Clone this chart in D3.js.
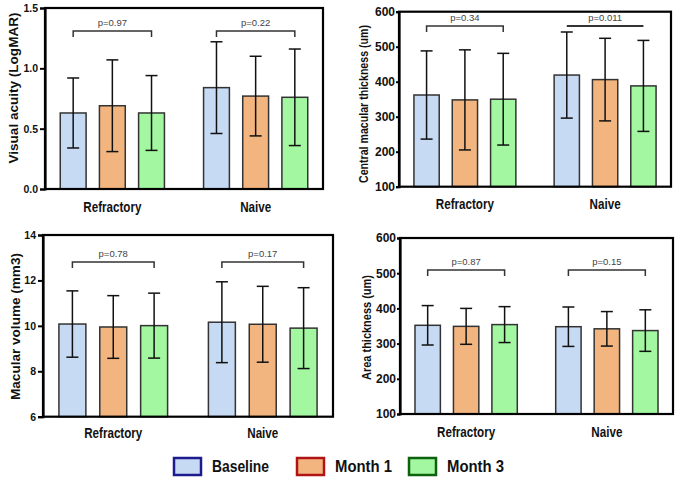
<!DOCTYPE html>
<html>
<head>
<meta charset="utf-8">
<script src="https://cdn.jsdelivr.net/npm/d3@7"></script>
<style>
  body { margin: 0; background: #fff; }
  svg { display: block; font-family: "Liberation Sans", Arial, sans-serif; }
</style>
</head>
<body>
<script>
const GROUPS = ['Refractory', 'Naive'];
const SERIES = ['Baseline', 'Month 1', 'Month 3'];

// mean and sd, [group][series]
const VA_MEAN  = [[0.63, 0.69, 0.63], [0.84, 0.77, 0.76]];
const VA_SD    = [[0.29, 0.38, 0.31], [0.38, 0.33, 0.40]];
const CMT_MEAN = [[362, 348, 350], [419, 406, 388]];
const CMT_SD   = [[126, 143, 131], [123, 118, 130]];
const MV_MEAN  = [[10.08, 9.95, 10.01], [10.16, 10.07, 9.90]];
const MV_SD    = [[1.46, 1.38, 1.43], [1.78, 1.67, 1.78]];
const AT_MEAN  = [[352, 349, 354], [348, 342, 337]];
const AT_SD    = [[56, 51, 51], [56, 49, 59]];

const P_VALUES = [['p=0.97', 'p=0.22'], ['p=0.34', 'p=0.011'],
                  ['p=0.78', 'p=0.17'], ['p=0.87', 'p=0.15']];
const TITLES = ['Visual acuity (LogMAR)', 'Central macular thickness (um)',
                'Macular volume (mm3)', 'Area thickness (um)'];
const Y_TICKS = [[0, 0.5, 1.0, 1.5], [100, 200, 300, 400, 500, 600],
                 [6, 8, 10, 12, 14], [100, 200, 300, 400, 500, 600]];

const FILLS = ['#c6daf4', '#f3b57f', '#a2f7a0'];
const EDGES = ['#1c1c8e', '#b01414', '#0e620e'];

const W = 681, H = 484;

const svg = d3.select('body').append('svg')
  .attr('width', W)
  .attr('height', H);

svg.append('rect').attr('width', W).attr('height', H).attr('fill', '#fff');

let panels = [
  {mean: VA_MEAN, sd: VA_SD, fmt: d3.format('.1f'), left: 45, right: 323, top: 8, bottom: 189,
   tx: 13.5, ty: 88, tlen: 151, tfont: 10.5, tsize: 5, bracket: 1.31, catDy: 23, side: 'l'},
  {mean: CMT_MEAN, sd: CMT_SD, fmt: d3.format('d'), left: 399, right: 671, top: 11.7, bottom: 186.7,
   tx: 364, ty: 104, tlen: 158, tfont: 12, tsize: 3, bracket: 559, catDy: 22, side: 'r', noTicks: [false, true]},
  {mean: MV_MEAN, sd: MV_SD, fmt: d3.format('d'), left: 43, right: 333, top: 235, bottom: 416.7,
   tx: 16, ty: 326.5, tlen: 147, tfont: 10.5, tsize: 5, bracket: 12.81, catDy: 21, side: 'l'},
  {mean: AT_MEAN, sd: AT_SD, fmt: d3.format('d'), left: 400, right: 673, top: 238, bottom: 414,
   tx: 367, ty: 327.5, tlen: 105, tfont: 12, tsize: 3, bracket: 509, catDy: 23, side: 'r'}
];

panels.forEach((p, i) => drawPanel(p, i));
drawLegend();

// the source image is a bit flattened, so squeeze some text sideways
function squeeze(sel, factor) {
  sel.each(function() {
    let len = this.getComputedTextLength();
    d3.select(this)
      .attr('textLength', len * factor)
      .attr('lengthAdjust', 'spacingAndGlyphs');
  });
}

function drawPanel(p, i) {
  let ticks = Y_TICKS[i];
  let y = d3.scaleLinear()
            .domain([ticks[0], ticks[ticks.length - 1]])
            .range([p.bottom, p.top]);

  let x0 = d3.scaleBand()
             .domain(GROUPS)
             .range([p.left, p.right])
             .paddingInner(0.18)
             .paddingOuter(0.06);

  let x1 = d3.scaleBand()
             .domain(SERIES)
             .range([0, x0.bandwidth()])
             .paddingInner(0.34)
             .paddingOuter(0.17);

  let g = svg.append('g');

  // bars
  GROUPS.forEach((grp, gi) => {
    SERIES.forEach((s, si) => {
      let m = p.mean[gi][si];
      let sd = p.sd[gi][si];
      let bx = x0(grp) + x1(s);
      let cx = bx + x1.bandwidth() / 2;
      g.append('rect')
       .attr('x', bx)
       .attr('y', y(m))
       .attr('width', x1.bandwidth())
       .attr('height', y(ticks[0]) - y(m))
       .attr('fill', FILLS[si])
       .attr('stroke', '#333')
       .attr('stroke-width', 1.5);
      g.append('line')
       .attr('x1', cx).attr('x2', cx)
       .attr('y1', y(m - sd)).attr('y2', y(m + sd))
       .attr('stroke', '#111').attr('stroke-width', 1.5);
      [m - sd, m + sd].forEach(v => {
        g.append('line')
         .attr('x1', cx - 6).attr('x2', cx + 6)
         .attr('y1', y(v)).attr('y2', y(v))
         .attr('stroke', '#111').attr('stroke-width', 1.5);
      });
    });

    // comparison bracket
    let xa = x0(grp) + x1(SERIES[0]) + x1.bandwidth() / 2;
    let xb = x0(grp) + x1(SERIES[2]) + x1.bandwidth() / 2;
    let by = y(p.bracket);
    let plain = p.noTicks && p.noTicks[gi];
    let path = plain ? `M${xa},${by}H${xb}` : `M${xa},${by + 6}V${by}H${xb}V${by + 6}`;
    g.append('path')
     .attr('d', path)
     .attr('fill', 'none')
     .attr('stroke', '#333')
     .attr('stroke-width', plain ? 2 : 1.5);
    g.append('text')
     .attr('x', (xa + xb) / 2)
     .attr('y', by - 5)
     .attr('text-anchor', 'middle')
     .attr('font-size', 9.5)
     .attr('fill', '#444')
     .text(P_VALUES[i][gi]);

    // group label
    let mid = x0(grp) + x1(SERIES[1]) + x1.bandwidth() / 2;
    let lab = g.append('text')
     .attr('x', mid)
     .attr('y', p.bottom + p.catDy)
     .attr('text-anchor', 'middle')
     .attr('font-size', 14)
     .attr('font-weight', 'bold')
     .attr('fill', '#111')
     .text(grp);
    squeeze(lab, 0.83);
  });

  // frame
  g.append('rect')
   .attr('x', p.left)
   .attr('y', p.top)
   .attr('width', p.right - p.left)
   .attr('height', p.bottom - p.top)
   .attr('fill', 'none')
   .attr('stroke', '#000')
   .attr('stroke-width', 2.2);

  // y axis
  let axis = g.append('g')
              .attr('transform', `translate(${p.left},0)`)
              .call(d3.axisLeft(y)
                      .tickValues(ticks)
                      .tickFormat(p.fmt)
                      .tickSize(p.tsize)
                      .tickPadding(p.side === 'l' ? 2 : 1));
  axis.select('.domain').attr('stroke-width', 2.2);
  axis.selectAll('.tick line').attr('stroke-width', 2);
  axis.selectAll('text')
      .attr('font-size', p.tfont)
      .attr('font-weight', 'bold')
      .attr('font-family', '"Liberation Sans", Arial, sans-serif')
      .attr('fill', '#111');

  // y title
  g.append('text')
   .attr('transform', `translate(${p.tx},${p.ty}) rotate(-90)`)
   .attr('text-anchor', 'middle')
   .attr('dominant-baseline', 'central')
   .attr('font-size', 12)
   .attr('font-weight', 'bold')
   .attr('fill', '#111')
   .attr('textLength', p.tlen)
   .attr('lengthAdjust', 'spacingAndGlyphs')
   .text(TITLES[i]);
}

function drawLegend() {
  let boxX = [174, 297, 409];
  let lg = svg.append('g');
  SERIES.forEach((s, i) => {
    lg.append('rect')
      .attr('x', boxX[i])
      .attr('y', 458)
      .attr('width', 27)
      .attr('height', 17)
      .attr('fill', FILLS[i])
      .attr('stroke', EDGES[i])
      .attr('stroke-width', 2.5);
    lg.append('text')
      .attr('x', boxX[i] + 38)
      .attr('y', 466.5)
      .attr('dominant-baseline', 'central')
      .attr('font-size', 17)
      .attr('font-weight', 'bold')
      .attr('fill', '#111')
      .attr('textLength', 57)
      .attr('lengthAdjust', 'spacingAndGlyphs')
      .text(s);
  });
}
</script>
</body>
</html>
